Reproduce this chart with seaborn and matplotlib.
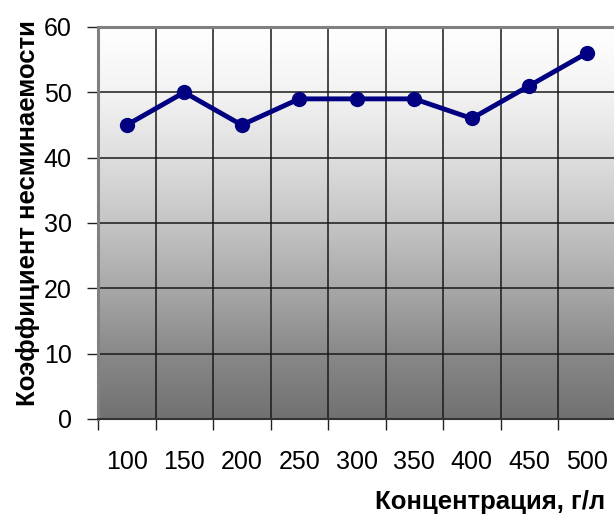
import numpy as np
import pandas as pd
import matplotlib
matplotlib.use("Agg")
import matplotlib.pyplot as plt
from matplotlib.colors import LinearSegmentedColormap
import seaborn as sns

# Concentration categories and crease-resistance coefficient
concentrations = ["100", "150", "200", "250", "300", "350", "400", "450", "500"]
coefficient = [45, 50, 45, 49, 49, 49, 46, 51, 56]
y_ticks = [0, 10, 20, 30, 40, 50, 60]

sns.set_style("white")
plt.rcParams["font.family"] = ["Liberation Sans", "DejaVu Sans"]

df = pd.DataFrame({"pos": np.arange(len(concentrations)), "value": coefficient})

fig = plt.figure(figsize=(6.14, 5.15), dpi=100)
ax = fig.add_axes([98 / 614, 96 / 515, 517.5 / 614, 392 / 515])

# Vertical gradient fill of the plotting area: white at the top, grey below
n = len(concentrations)
grad = np.linspace(0, 1, 512).reshape(-1, 1)
stops = [(0.0, "#ffffff"), (1 / 6, "#f3f3f3"), (2 / 6, "#dedede"),
         (3 / 6, "#c5c5c5"), (4 / 6, "#a8a8a8"), (5 / 6, "#898989"),
         (1.0, "#717171")]
cmap = LinearSegmentedColormap.from_list("bg", stops)
ax.imshow(grad, extent=[-0.5, n - 0.5, 0, 60], aspect="auto", cmap=cmap,
          origin="upper", zorder=0, interpolation="bilinear")

sns.lineplot(data=df, x="pos", y="value", ax=ax, color="#000080",
             linewidth=3.5, marker="o", markersize=11, markeredgewidth=0,
             zorder=5)

ax.set_xlim(-0.5, n - 0.5)
ax.set_ylim(0, 60)

# Category labels at centres, tick marks and grid at boundaries
ax.set_xticks(np.arange(n))
ax.set_xticklabels(concentrations)
ax.set_xticks(np.arange(n + 1) - 0.5, minor=True)
ax.tick_params(axis="x", which="major", length=0, pad=22, labelsize=18,
               labelcolor="black")
ax.tick_params(axis="x", which="minor", length=8, width=1, color="#222222",
               direction="out", bottom=True)
ax.set_yticks(y_ticks)
ax.tick_params(axis="y", length=8, width=1, color="#222222", pad=11,
               labelsize=18, left=True, labelcolor="black")

ax.grid(False)
for xv in np.arange(1, n) - 0.5:
    ax.axvline(xv, color="#1a1a1a", linewidth=1.1, zorder=2)
for yv in y_ticks[1:-1]:
    ax.axhline(yv, color="#1a1a1a", linewidth=1.1, zorder=2)

for side in ["left", "top"]:
    ax.spines[side].set_color("#808080")
    ax.spines[side].set_linewidth(2.2)
ax.spines["bottom"].set_color("#333333")
ax.spines["bottom"].set_linewidth(1.5)
ax.spines["right"].set_visible(False)

ax.set_xlabel("")
ax.set_ylabel("")
fig.text(28 / 614, (515 - 213) / 515, "Коэффициент несминаемости",
         rotation=90, ha="center", va="center", fontsize=18.5,
         fontweight="bold", color="black")
fig.text(605 / 614, 6 / 515, "Концентрация, г/л", ha="right",
         va="baseline", fontsize=18.5, fontweight="bold", color="black")

fig.savefig("out.png", dpi=100)
